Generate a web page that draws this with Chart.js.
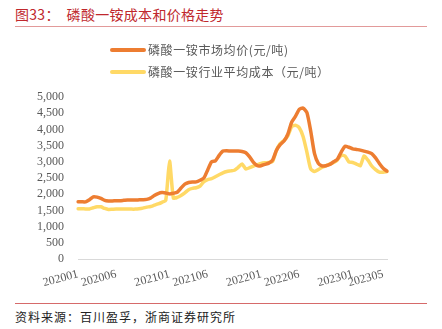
<!DOCTYPE html>
<html>
<head>
<meta charset="utf-8">
<script src="https://cdn.jsdelivr.net/npm/chart.js@4/dist/chart.umd.min.js"></script>
<style>
  html, body { margin: 0; padding: 0; background: #fff; }
  body { width: 442px; height: 329px; position: relative; overflow: hidden; }
  #title { position: absolute; left: 15px; top: 4px; font: 14px "Noto Sans CJK SC", sans-serif; color: #C0282D; white-space: pre; letter-spacing: 0.3px; }
  .rule { position: absolute; left: 15px; width: 412px; height: 1px; background: #E29A9A; }
  #source { position: absolute; left: 15px; top: 308px; font: 12px "Noto Sans CJK SC", sans-serif; color: #222; letter-spacing: 1px; }
  #wrap { position: absolute; left: 0; top: 0; width: 442px; height: 300px; }
</style>
</head>
<body>
<div id="title">图33：  磷酸一铵成本和价格走势</div>
<div class="rule" style="top:26px"></div>
<div id="wrap"><canvas id="c" width="442" height="300"></canvas></div>
<div class="rule" style="top:303px; background:#D66A6A"></div>
<div id="source">资料来源：百川盈孚，浙商证券研究所</div>
<script>
// Half-monthly observations, January 2020 to June 2023
const months = [];
for (let y = 2020; y <= 2023; y++) {
  for (let m = 1; m <= 12; m++) {
    if (y === 2023 && m > 6) break;
    const mm = String(m).padStart(2, '0');
    months.push(y + mm + '-1', y + mm + '-2');
  }
}
const categories = months.slice(0, 82);

// Months that carry an axis label
const shownTicks = ['202001', '202006', '202101', '202106', '202201', '202206', '202301', '202305'];

// 磷酸一铵市场均价 (元/吨)
const marketPrice = [
  1770, 1765, 1765, 1830, 1920, 1910, 1870, 1810, 1790, 1790,
  1800, 1800, 1810, 1820, 1820, 1820, 1825, 1830, 1840, 1880,
  1960, 2020, 2050, 2040, 2010, 2030, 2060, 2190, 2310, 2360,
  2380, 2380, 2430, 2500, 2750, 3000, 3030, 3200, 3330, 3340,
  3330, 3330, 3330, 3320, 3280, 3150, 2980, 2880, 2880, 2920,
  2960, 3050, 3350, 3530, 3640, 3850, 4220, 4400, 4620, 4660,
  4520, 3950, 3250, 2950, 2870, 2880, 2920, 3000, 3080, 3300,
  3480, 3450, 3400, 3380, 3360, 3330, 3300, 3250, 3120, 2950,
  2800, 2710
];

// 磷酸一铵行业平均成本 (元/吨)
const avgCost = [
  1550, 1550, 1545, 1545, 1580, 1610, 1610, 1560, 1530, 1535,
  1540, 1540, 1545, 1545, 1540, 1540, 1550, 1570, 1600, 1620,
  1660, 1700, 1750, 1810, 3020, 1880, 1900, 1960, 2040, 2140,
  2180, 2200, 2250, 2390, 2450, 2480, 2540, 2600, 2660, 2700,
  2720, 2740, 2830, 2930, 2780, 2820, 2870, 2910, 2950, 2970,
  2980, 3010, 3350, 3560, 3660, 3800, 4080, 4130, 4050, 3780,
  3300, 2780, 2700, 2760, 2830, 2880, 2930, 2980, 3060, 3200,
  3180, 3000, 2980, 2930, 2880, 3180, 3050, 2870, 2760, 2680,
  2680, 2700
];

const seriesNames = ['磷酸一铵市场均价(元/吨)', '磷酸一铵行业平均成本（元/吨）'];
const yTicks = [0, 500, 1000, 1500, 2000, 2500, 3000, 3500, 4000, 4500, 5000];

// Stacked legend above the plot, drawn on the canvas
const stackedLegend = {
  id: 'stackedLegend',
  afterDraw(chart) {
    const ctx = chart.ctx;
    ctx.save();
    chart.data.datasets.forEach((ds, i) => {
      const y = 50 + i * 22;
      ctx.strokeStyle = ds.borderColor;
      ctx.lineWidth = 4;
      ctx.lineCap = 'round';
      ctx.beginPath();
      ctx.moveTo(112, y);
      ctx.lineTo(144, y);
      ctx.stroke();
      ctx.fillStyle = '#595959';
      ctx.font = '12px "Noto Sans CJK SC", sans-serif';
      ctx.letterSpacing = '0.6px';
      ctx.textBaseline = 'middle';
      ctx.textAlign = 'left';
      ctx.fillText(ds.label, 148, y);
    });
    ctx.restore();
  }
};

new Chart(document.getElementById('c'), {
  type: 'line',
  data: {
    labels: categories,
    datasets: [
      { label: seriesNames[0], data: marketPrice, borderColor: '#ED7D31', backgroundColor: '#ED7D31' },
      { label: seriesNames[1], data: avgCost, borderColor: '#FFD966', backgroundColor: '#FFD966' }
    ]
  },
  options: {
    responsive: false,
    animation: false,
    devicePixelRatio: 1,
    layout: { padding: { left: 0, right: 55, top: 97, bottom: 0 } },
    elements: {
      line: { borderWidth: 3.5, tension: 0.2, borderCapStyle: 'round', borderJoinStyle: 'round' },
      point: { radius: 0, hoverRadius: 0 }
    },
    plugins: { legend: { display: false }, tooltip: { enabled: false } },
    scales: {
      x: {
        type: 'category',
        offset: false,
        grid: { display: false, drawTicks: false },
        border: { display: true, color: '#D9D9D9', width: 1 },
        ticks: {
          autoSkip: false,
          minRotation: 15,
          maxRotation: 15,
          padding: 8,
          color: '#595959',
          font: { family: '"Liberation Serif", serif', size: 12 },
          callback(value, index) {
            const lab = categories[index];
            const ym = lab.slice(0, 6);
            return lab.endsWith('-1') && shownTicks.includes(ym) ? ym : '';
          }
        },
        afterFit(scale) { scale.height = 41; }
      },
      y: {
        min: 0,
        max: 5000,
        afterBuildTicks(scale) { scale.ticks = yTicks.map(v => ({ value: v })); },
        grid: { display: false, drawTicks: false },
        border: { display: false },
        ticks: {
          autoSkip: false,
          padding: 14,
          color: '#595959',
          font: { family: '"Liberation Serif", serif', size: 12 },
          callback: v => Number(v).toLocaleString('en-US')
        },
        afterFit(scale) { scale.width = 78; }
      }
    }
  },
  plugins: [stackedLegend]
});
</script>
</body>
</html>
